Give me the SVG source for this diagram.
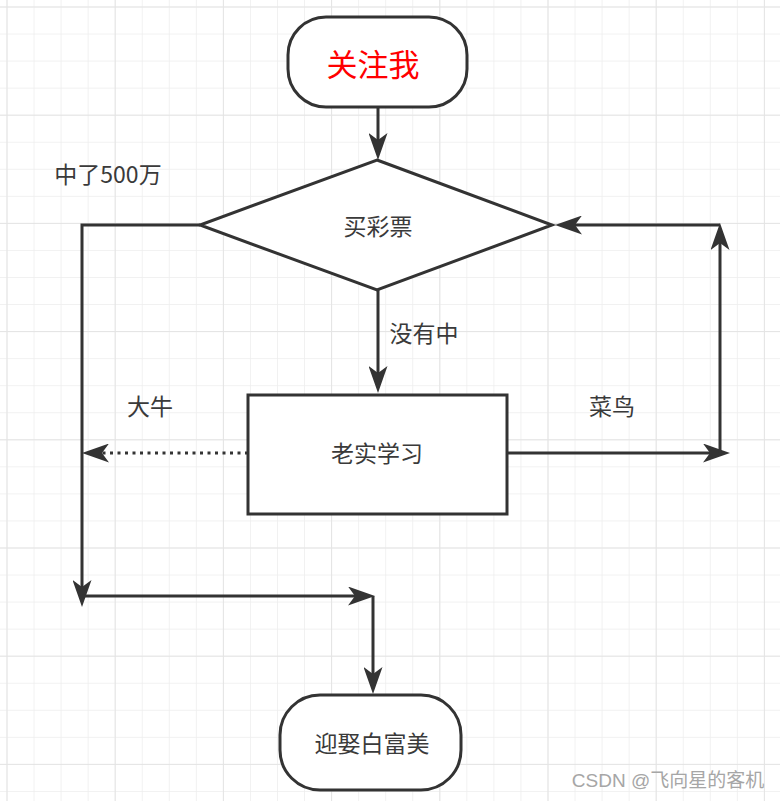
<svg xmlns="http://www.w3.org/2000/svg" width="780" height="801" viewBox="0 0 780 801">
  <defs>
    <pattern id="grid" x="6.5" y="6.5" width="27.05" height="27.05" patternUnits="userSpaceOnUse">
      <path d="M0,0 H27.05 M0,0 V27.05" fill="none" stroke="#ededed" stroke-width="1.5"/>
    </pattern>
    <pattern id="gridMajor" x="6.5" y="6.5" width="108.2" height="108.2" patternUnits="userSpaceOnUse">
      <path d="M0,0 H108.2 M0,0 V108.2" fill="none" stroke="#e4e4e4" stroke-width="2"/>
    </pattern>
    <marker id="arrow" markerUnits="userSpaceOnUse" viewBox="0 0 27 19" markerWidth="27" markerHeight="19" refX="7" refY="9.5" orient="auto">
      <path d="M0,0 L27,9.5 L0,19 L7,9.5 Z" fill="#333333" stroke="none"/>
    </marker>
    <style>
      .shape { fill: #ffffff; stroke: #333333; stroke-width: 3; }
      .edge { fill: none; stroke: #333333; stroke-width: 3; stroke-linejoin: miter; marker-end: url(#arrow); }
      .dotted { stroke-dasharray: 3 4.5; }
      .label { font-family: "Noto Sans CJK SC", "Liberation Sans", sans-serif; font-size: 23px; fill: #3a3a3a; text-anchor: middle; dominant-baseline: central; }
    </style>
  </defs>
  <rect width="780" height="801" fill="#ffffff"/>
  <rect width="780" height="801" fill="url(#grid)"/>
  <rect width="780" height="801" fill="url(#gridMajor)"/>

  <g id="connectors">
    <path class="edge" d="M378,107 V140"/>
    <path class="edge" d="M378,290 V373"/>
    <path class="edge" d="M200,225 H82 V587"/>
    <path class="edge dotted" d="M248,453 H102"/>
    <path class="edge" d="M507,453 H710"/>
    <path class="edge" d="M720,453 V243"/>
    <path class="edge" d="M720,225 H575"/>
    <path class="edge" d="M82,596 H355"/>
    <path class="edge" d="M373,596 V674"/>
  </g>

  <g id="start">
    <rect class="shape" x="288" y="17" width="179" height="90" rx="38" ry="38"/>
    <text class="label" x="373" y="62" style="font-size:31px;fill:#ff0000">关注我</text>
  </g>
  <g id="decision">
    <polygon class="shape" points="377,160 552,225 377,290 200,225"/>
    <text class="label" x="378" y="225">买彩票</text>
  </g>
  <g id="study">
    <rect class="shape" x="248" y="395" width="259" height="119"/>
    <text class="label" x="377" y="452">老实学习</text>
  </g>
  <g id="end">
    <rect class="shape" x="280" y="695" width="181" height="95" rx="40" ry="40"/>
    <text class="label" x="372" y="742">迎娶白富美</text>
  </g>

  <g id="edge-labels">
    <text class="label" x="108" y="173">中了500万</text>
    <text class="label" x="424" y="332">没有中</text>
    <text class="label" x="150" y="405">大牛</text>
    <text class="label" x="612" y="405">菜鸟</text>
  </g>

  <text x="668" y="780" style="font-family:'Liberation Sans','Noto Sans CJK SC',sans-serif;font-size:19px;fill:#a6a6a6;text-anchor:middle;dominant-baseline:central">CSDN @飞向星的客机</text>
</svg>
